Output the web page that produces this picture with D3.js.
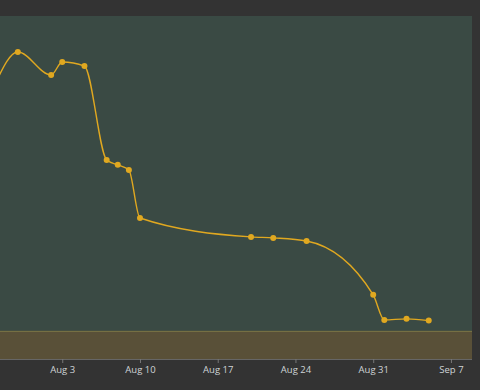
<!DOCTYPE html>
<html>
<head>
<meta charset="utf-8">
<script src="https://cdn.jsdelivr.net/npm/d3@7"></script>
<style>
  html, body { margin: 0; padding: 0; background: #333333; }
  svg { display: block; }
</style>
</head>
<body>
<svg id="chart" width="480" height="390"></svg>
<script>
// ---- data ----
const dates = ["2020-07-28","2020-07-30","2020-08-02","2020-08-03","2020-08-05","2020-08-07","2020-08-08","2020-08-09","2020-08-10","2020-08-20","2020-08-22","2020-08-25","2020-08-31","2020-09-01","2020-09-03","2020-09-05"];
const values = [80.5, 89.5, 82.8, 86.6, 85.4, 58.0, 56.6, 55.1, 41.1, 35.6, 35.3, 34.4, 18.7, 11.4, 11.7, 11.2];
const tickDates = ["2020-08-03","2020-08-10","2020-08-17","2020-08-24","2020-08-31","2020-09-07"];
const tickLabels = ["Aug 3","Aug 10","Aug 17","Aug 24","Aug 31","Sep 7"];
const bandRange = [0, 8.2];
const xDomain = ["2020-07-28T09:30:00","2020-09-08T21:30:00"];
const yDomain = [0, 100];

// ---- layout ----
const W = 480, H = 390;
const plot = { left: 0, right: 472, top: 16, bottom: 359 };
const parse = d3.isoParse;

const x = d3.scaleTime()
  .domain(xDomain.map(parse))
  .range([plot.left, plot.right]);
const y = d3.scaleLinear()
  .domain(yDomain)
  .range([plot.bottom, plot.top]);

const svg = d3.select("#chart");

svg.append("rect").attr("x", 0).attr("y", 0).attr("width", W).attr("height", H).attr("fill", "#333333");

svg.append("defs").append("clipPath").attr("id", "clip")
  .append("rect")
  .attr("x", plot.left).attr("y", plot.top)
  .attr("width", plot.right - plot.left).attr("height", plot.bottom - plot.top);

// plot background
svg.append("rect")
  .attr("x", plot.left).attr("y", plot.top)
  .attr("width", plot.right - plot.left).attr("height", plot.bottom - plot.top)
  .attr("fill", "#3a4a44");

// band
svg.append("rect")
  .attr("x", plot.left).attr("y", y(bandRange[1]))
  .attr("width", plot.right - plot.left)
  .attr("height", y(bandRange[0]) - y(bandRange[1]))
  .attr("fill", "#595038");
svg.append("line")
  .attr("x1", plot.left).attr("x2", plot.right)
  .attr("y1", y(bandRange[1]) + 0.5).attr("y2", y(bandRange[1]) + 0.5)
  .attr("stroke", "#7a7446").attr("stroke-width", 1);

// axis
const xAxis = d3.axisBottom(x)
  .tickValues(tickDates.map(parse))
  .tickFormat((d, i) => tickLabels[i])
  .tickSize(4)
  .tickPadding(3);
const gx = svg.append("g")
  .attr("transform", `translate(0,${plot.bottom})`)
  .call(xAxis);
gx.select(".domain").attr("stroke", "#666666").attr("d", `M${plot.left},0.5H${plot.right}`);
gx.selectAll(".tick line").attr("stroke", "#777777");
gx.selectAll(".tick text")
  .attr("fill", "#cfd3d6")
  .attr("font-family", "'Open Sans', sans-serif")
  .attr("font-size", "9.5px");

// line + points
const data = dates.map((d, i) => ({ date: parse(d), value: values[i] }));
const line = d3.line()
  .x(d => x(d.date))
  .y(d => y(d.value))
  .curve(d3.curveMonotoneX);

const g = svg.append("g").attr("clip-path", "url(#clip)");
g.append("path")
  .datum(data)
  .attr("d", line)
  .attr("fill", "none")
  .attr("stroke", "#e0a820")
  .attr("stroke-width", 1.4);
g.selectAll("circle")
  .data(data)
  .join("circle")
  .attr("cx", d => x(d.date))
  .attr("cy", d => y(d.value))
  .attr("r", 3)
  .attr("fill", "#e0a820");
</script>
</body>
</html>
